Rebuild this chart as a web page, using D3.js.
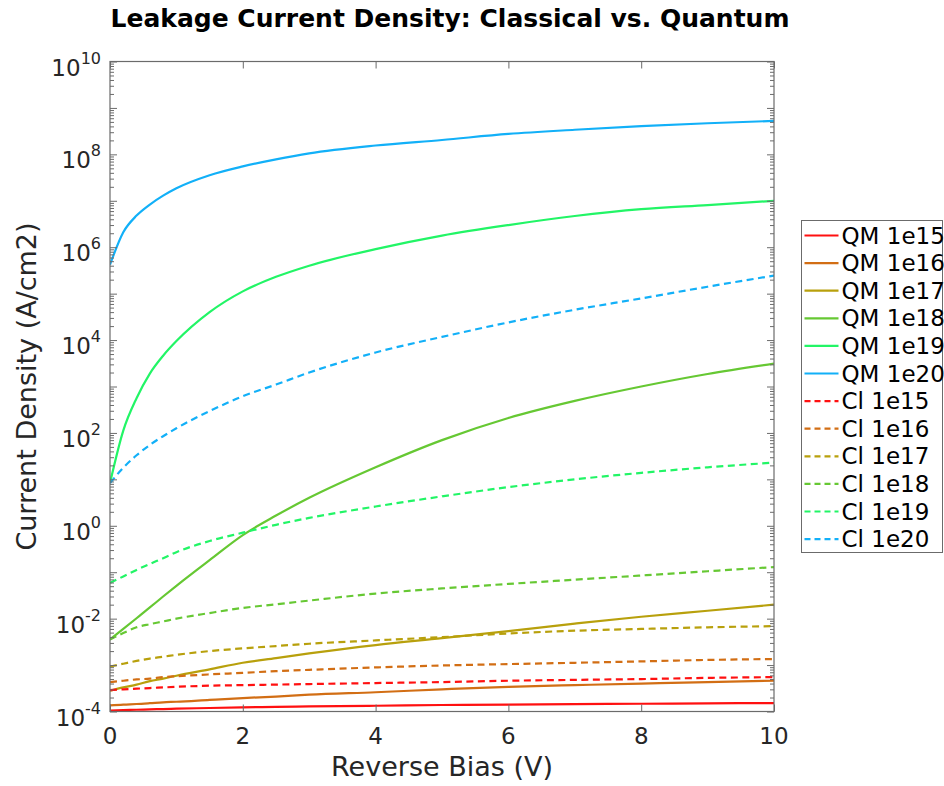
<!DOCTYPE html>
<html>
<head>
<meta charset="utf-8">
<script src="https://cdn.jsdelivr.net/npm/d3@7"></script>
<style>
body { margin: 0; background: #fff; }
text { font-family: "DejaVu Sans", sans-serif; fill: #262626; }
</style>
</head>
<body>
<div id="canvas"></div>
<script>
"use strict"

/* Data */
let biasV = [0, 0.2, 0.4, 0.6, 0.8, 1, 1.5, 2, 2.5, 3, 4, 5, 6, 7, 8, 9, 10];

let qm1e15 = [1.05e-4, 1.07e-4, 1.09e-4, 1.11e-4, 1.13e-4, 1.15e-4, 1.19e-4, 1.23e-4, 1.26e-4, 1.29e-4, 1.33e-4, 1.38e-4, 1.41e-4, 1.44e-4, 1.47e-4, 1.5e-4, 1.52e-4];
let qm1e16 = [1.35e-4, 1.41e-4, 1.45e-4, 1.51e-4, 1.58e-4, 1.62e-4, 1.78e-4, 1.95e-4, 2.1e-4, 2.3e-4, 2.6e-4, 3.0e-4, 3.4e-4, 3.7e-4, 4.0e-4, 4.3e-4, 4.6e-4];
let qm1e17 = [2.8e-4, 3.3e-4, 3.8e-4, 4.5e-4, 5.1e-4, 5.9e-4, 8.1e-4, 1.12e-3, 1.41e-3, 1.78e-3, 2.7e-3, 3.8e-3, 5.4e-3, 7.8e-3, 1.1e-2, 1.48e-2, 2.0e-2];
let qm1e18 = [3.55e-3, 6.0e-3, 1.02e-2, 1.74e-2, 3.0e-2, 5.1e-2, 1.82e-1, 6.3e-1, 1.66, 4.0, 1.82e1, 7.0e1, 2.1e2, 4.9e2, 1.0e3, 1.86e3, 3.1e3];
let qm1e19 = [8.3, 1.12e2, 5.6e2, 1.9e3, 4.6e3, 9.5e3, 4.0e4, 1.12e5, 2.3e5, 4.0e5, 9.1e5, 1.78e6, 3.0e6, 4.7e6, 6.6e6, 8.1e6, 1.0e7];
let qm1e20 = [4.2e5, 2.1e6, 4.8e6, 8.3e6, 1.29e7, 1.86e7, 3.55e7, 5.5e7, 7.8e7, 1.05e8, 1.55e8, 2.04e8, 2.75e8, 3.39e8, 4.07e8, 4.68e8, 5.25e8];

let cl1e15 = [2.9e-4, 3.0e-4, 3.1e-4, 3.2e-4, 3.3e-4, 3.4e-4, 3.6e-4, 3.7e-4, 3.8e-4, 3.9e-4, 4.1e-4, 4.3e-4, 4.6e-4, 4.8e-4, 5.0e-4, 5.3e-4, 5.5e-4];
let cl1e16 = [4.3e-4, 4.6e-4, 4.9e-4, 5.1e-4, 5.5e-4, 5.75e-4, 6.3e-4, 6.8e-4, 7.4e-4, 7.9e-4, 8.9e-4, 9.8e-4, 1.05e-3, 1.12e-3, 1.2e-3, 1.29e-3, 1.35e-3];
let cl1e17 = [9.3e-4, 1.07e-3, 1.23e-3, 1.38e-3, 1.51e-3, 1.66e-3, 2.0e-3, 2.29e-3, 2.57e-3, 2.88e-3, 3.4e-3, 4.0e-3, 4.8e-3, 5.5e-3, 6.0e-3, 6.5e-3, 6.9e-3];
let cl1e18 = [3.55e-3, 4.9e-3, 6.5e-3, 7.6e-3, 8.7e-3, 1.0e-2, 1.32e-2, 1.7e-2, 2.04e-2, 2.45e-2, 3.47e-2, 4.47e-2, 5.6e-2, 6.9e-2, 8.5e-2, 0.105, 0.129];
let cl1e19 = [5.9e-2, 8.1e-2, 0.112, 0.151, 0.2, 0.27, 0.47, 0.71, 1.05, 1.48, 2.6, 4.3, 6.8, 10, 13.8, 18.2, 22.9];
let cl1e20 = [8.3, 17.8, 33, 55, 85, 126, 295, 617, 1.1e3, 2.0e3, 5.4e3, 1.17e4, 2.4e4, 4.5e4, 7.9e4, 1.41e5, 2.45e5];

let dopings = ["1e15", "1e16", "1e17", "1e18", "1e19", "1e20"];
let colors = ["#ff1010", "#d26e14", "#b8a00c", "#66c833", "#22f566", "#12b0f8"];

let xTicks = [0, 2, 4, 6, 8, 10];
let yLabelExps = [-4, -2, 0, 2, 4, 6, 8, 10];

let series = [
    { name: "QM 1e15", values: qm1e15, color: colors[0], dashed: false },
    { name: "QM 1e16", values: qm1e16, color: colors[1], dashed: false },
    { name: "QM 1e17", values: qm1e17, color: colors[2], dashed: false },
    { name: "QM 1e18", values: qm1e18, color: colors[3], dashed: false },
    { name: "QM 1e19", values: qm1e19, color: colors[4], dashed: false },
    { name: "QM 1e20", values: qm1e20, color: colors[5], dashed: false },
    { name: "Cl 1e15", values: cl1e15, color: colors[0], dashed: true },
    { name: "Cl 1e16", values: cl1e16, color: colors[1], dashed: true },
    { name: "Cl 1e17", values: cl1e17, color: colors[2], dashed: true },
    { name: "Cl 1e18", values: cl1e18, color: colors[3], dashed: true },
    { name: "Cl 1e19", values: cl1e19, color: colors[4], dashed: true },
    { name: "Cl 1e20", values: cl1e20, color: colors[5], dashed: true }
];

/* Drawing configuration */
let svgWidth = 944;
let svgHeight = 786;
let plot = { left: 110, right: 774, top: 61.5, bottom: 711.5 };
let dashPattern = "7,4.5";

let svg = d3.select("#canvas")
    .append("svg")
    .attr("width", svgWidth)
    .attr("height", svgHeight);

let xScale = d3.scaleLinear()
    .domain([0, 10])
    .range([plot.left, plot.right]);

let yScale = d3.scaleLog()
    .domain([1e-4, 1e10])
    .range([plot.bottom, plot.top]);

svg.append("clipPath")
    .attr("id", "plotClip")
    .append("rect")
    .attr("x", plot.left)
    .attr("y", plot.top)
    .attr("width", plot.right - plot.left)
    .attr("height", plot.bottom - plot.top);

/* Curves */
let line = d3.line()
    .curve(d3.curveMonotoneX)
    .x(function (d, i) { return xScale(biasV[i]); })
    .y(function (d) { return yScale(d); });

svg.append("g")
    .attr("clip-path", "url(#plotClip)")
    .selectAll("path")
    .data(series)
    .join("path")
    .attr("fill", "none")
    .attr("stroke", function (s) { return s.color; })
    .attr("stroke-width", 2.2)
    .attr("stroke-dasharray", function (s) { return s.dashed ? dashPattern : null; })
    .attr("d", function (s) { return line(s.values); });

/* Axes box and ticks */
let axisColor = "#6b6b6b";

svg.append("rect")
    .attr("x", plot.left)
    .attr("y", plot.top)
    .attr("width", plot.right - plot.left)
    .attr("height", plot.bottom - plot.top)
    .attr("fill", "none")
    .attr("stroke", axisColor)
    .attr("stroke-width", 1.2);

let xAxisBottom = d3.axisBottom(xScale).tickValues(xTicks).tickSize(-7).tickFormat("");
let xAxisTop = d3.axisTop(xScale).tickValues(xTicks).tickSize(-7).tickFormat("");
svg.append("g").attr("transform", `translate(0,${plot.bottom})`).call(xAxisBottom);
svg.append("g").attr("transform", `translate(0,${plot.top})`).call(xAxisTop);

let majorY = d3.range(-4, 11).map(function (e) { return Math.pow(10, e); });
let minorY = [];
d3.range(-4, 10).forEach(function (e) {
    for (let m = 2; m <= 9; m++) minorY.push(m * Math.pow(10, e));
});

svg.append("g").attr("transform", `translate(${plot.left},0)`)
    .call(d3.axisLeft(yScale).tickValues(majorY).tickSize(-7).tickFormat(""));
svg.append("g").attr("transform", `translate(${plot.left},0)`)
    .call(d3.axisLeft(yScale).tickValues(minorY).tickSize(-4).tickFormat(""));
svg.append("g").attr("transform", `translate(${plot.right},0)`)
    .call(d3.axisRight(yScale).tickValues(majorY).tickSize(-7).tickFormat(""));
svg.append("g").attr("transform", `translate(${plot.right},0)`)
    .call(d3.axisRight(yScale).tickValues(minorY).tickSize(-4).tickFormat(""));

svg.selectAll(".domain").remove();
svg.selectAll(".tick line").attr("stroke", axisColor).attr("stroke-width", 1);

/* Tick labels */
svg.selectAll(".xlabel")
    .data(xTicks)
    .join("text")
    .attr("class", "xlabel")
    .attr("x", function (d) { return xScale(d); })
    .attr("y", plot.bottom + 32)
    .attr("text-anchor", "middle")
    .attr("font-size", 23)
    .text(function (d) { return d; });

yLabelExps.forEach(function (e) {
    let t = svg.append("text")
        .attr("x", plot.left - 9)
        .attr("y", yScale(Math.pow(10, e)) + 14)
        .attr("text-anchor", "end")
        .attr("font-size", 23);
    t.append("tspan").text("10");
    t.append("tspan")
        .attr("dy", -12)
        .attr("font-size", 16)
        .text(e);
});

/* Title and axis labels */
svg.append("text")
    .attr("x", 450)
    .attr("y", 27)
    .attr("text-anchor", "middle")
    .attr("font-size", 25)
    .attr("font-weight", "bold")
    .style("fill", "#000")
    .text("Leakage Current Density: Classical vs. Quantum");

svg.append("text")
    .attr("x", (plot.left + plot.right) / 2)
    .attr("y", 776)
    .attr("text-anchor", "middle")
    .attr("font-size", 27)
    .text("Reverse Bias (V)");

svg.append("text")
    .attr("transform", `translate(36,${(plot.top + plot.bottom) / 2}) rotate(-90)`)
    .attr("text-anchor", "middle")
    .attr("font-size", 27)
    .text("Current Density (A/cm2)");

/* Legend */
let legend = { x: 801.5, y: 220.5, width: 141, height: 332, rowH: 27.6 };

svg.append("rect")
    .attr("x", legend.x)
    .attr("y", legend.y)
    .attr("width", legend.width)
    .attr("height", legend.height)
    .attr("fill", "#fff")
    .attr("stroke", axisColor)
    .attr("stroke-width", 1);

let rows = svg.selectAll(".legendRow")
    .data(series)
    .join("g")
    .attr("class", "legendRow")
    .attr("transform", function (s, i) {
        return `translate(${legend.x}, ${legend.y + 15 + i * legend.rowH})`;
    });

rows.append("line")
    .attr("x1", 3)
    .attr("x2", 37)
    .attr("stroke", function (s) { return s.color; })
    .attr("stroke-width", 2.2)
    .attr("stroke-dasharray", function (s) { return s.dashed ? "6,4" : null; });

rows.append("text")
    .attr("x", 40)
    .attr("y", 8)
    .attr("font-size", 23)
    .style("fill", "#000")
    .text(function (s) { return s.name; });
</script>
</body>
</html>
